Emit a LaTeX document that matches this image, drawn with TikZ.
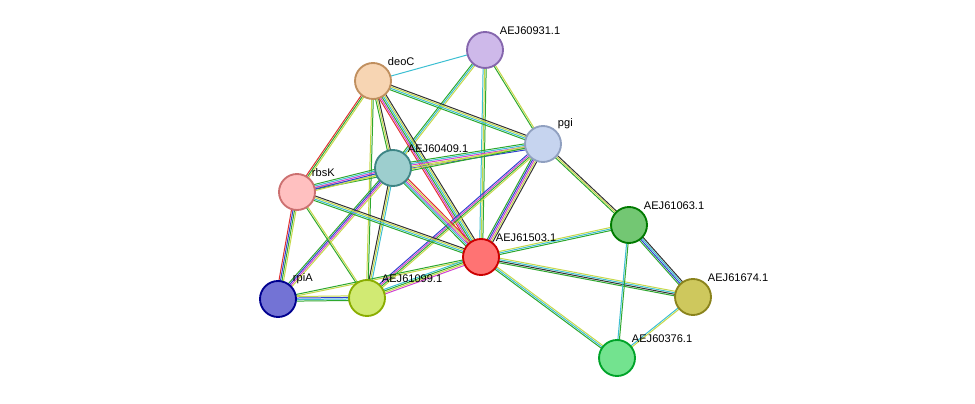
\documentclass[tikz,border=0pt]{standalone}
\usepackage{fontspec}
\setmainfont{Liberation Sans}
\usetikzlibrary{calc}
\definecolor{ecyan}{HTML}{3CBFD2}
\definecolor{egreen}{HTML}{2EA82E}
\definecolor{eyel}{HTML}{C6D84A}
\definecolor{emag}{HTML}{D040D0}
\definecolor{eblue}{HTML}{3040D0}
\definecolor{ered}{HTML}{E03030}
\definecolor{eblk}{HTML}{333333}
\tikzset{
  prot/.style={circle, minimum size=0.95cm, line width=1.4pt, fill=#1!55!white, draw=#1!80!black},
  lbl/.style={anchor=south west, inner sep=1pt, font=\fontsize{8.3}{10}\selectfont}
}
% multi-coloured edge: from, to, count, colours
\newcommand\stredge[4]{%
  \foreach \c [count=\i] in {#4}{%
    \pgfmathsetmacro\off{(\i-(#3+1)/2)*1.15}
    \draw[\c, line width=0.75pt] ($(#1)!\off pt!90:(#2)$) -- ($(#2)!\off pt!-90:(#1)$);
  }}
\begin{document}
\begin{tikzpicture}[x=0.0264cm, y=-0.0264cm]
\useasboundingbox (0,0) rectangle (975,404);
\coordinate (c60931) at (485,50);
\coordinate (cdeoC) at (373,81);
\coordinate (cpgi) at (543,144);
\coordinate (c60409) at (393,168);
\coordinate (crbsK) at (297,192);
\coordinate (c61503) at (481,257);
\coordinate (c61063) at (629,225);
\coordinate (c61674) at (693,297);
\coordinate (crpiA) at (278,299);
\coordinate (c61099) at (367,298);
\coordinate (c60376) at (617,358);
% edges
\stredge{c60931}{cdeoC}{1}{ecyan}
\stredge{c60931}{cpgi}{2}{egreen,eyel}
\stredge{c60931}{c60409}{3}{egreen,ecyan,eyel}
\stredge{c60931}{c61503}{3}{ecyan,eyel,egreen}
\stredge{cdeoC}{cpgi}{4}{egreen,ecyan,eyel,eblk}
\stredge{cdeoC}{c60409}{3}{egreen,eyel,eblk}
\stredge{cdeoC}{crbsK}{3}{ered,egreen,eyel}
\stredge{cdeoC}{c61503}{6}{ered,emag,egreen,ecyan,eyel,eblk}
\stredge{cdeoC}{c61099}{2}{eyel,egreen}
\stredge{cpgi}{c60409}{5}{egreen,ecyan,emag,eyel,eblue}
\stredge{cpgi}{crbsK}{2}{eyel,egreen}
\stredge{cpgi}{c61503}{5}{egreen,eblue,emag,eyel,eblk}
\stredge{cpgi}{c61099}{4}{eblue,emag,egreen,eyel}
\stredge{cpgi}{c61063}{3}{egreen,eyel,eblk}
\stredge{c60409}{crbsK}{5}{egreen,ecyan,emag,eblue,eyel}
\stredge{c60409}{c61503}{5}{egreen,ecyan,emag,eyel,ered}
\stredge{c60409}{crpiA}{4}{egreen,eblue,emag,eyel}
\stredge{c60409}{c61099}{3}{eblk,eyel,ecyan}
\stredge{crbsK}{c61503}{4}{egreen,ecyan,eyel,eblk}
\stredge{crbsK}{crpiA}{4}{ered,eblue,egreen,eyel}
\stredge{crbsK}{c61099}{2}{egreen,eyel}
\stredge{crpiA}{c61099}{4}{egreen,ecyan,eblue,eyel}
\stredge{crpiA}{c61503}{2}{eyel,egreen}
\stredge{c61099}{c61503}{4}{emag,eyel,egreen,ecyan}
\stredge{c61503}{c61063}{3}{egreen,ecyan,eyel}
\stredge{c61503}{c61674}{4}{egreen,eblk,ecyan,eyel}
\stredge{c61503}{c60376}{3}{egreen,ecyan,eyel}
\stredge{c61063}{c61674}{4}{egreen,eblue,ecyan,eblk}
\stredge{c61063}{c60376}{2}{ecyan,egreen}
\stredge{c61674}{c60376}{2}{ecyan,eyel}
% nodes
\node[prot=violet!60!blue!50!white, label={[lbl]north east:AEJ60931.1}] (n60931) at (c60931) {};
\node[prot=orange!60!brown!60!white, label={[lbl]north east:deoC}] (deoC) at (cdeoC) {};
\node[prot=cyan!50!blue!40!white, label={[lbl]north east:pgi}] (pgi) at (cpgi) {};
\node[prot=teal!70!white, label={[lbl]north east:AEJ60409.1}] (n60409) at (c60409) {};
\node[prot=red!45!white, label={[lbl]north east:rbsK}] (rbsK) at (crbsK) {};
\node[prot=red, label={[lbl]north east:AEJ61503.1}] (n61503) at (c61503) {};
\node[prot=green!60!black, label={[lbl]north east:AEJ61063.1}] (n61063) at (c61063) {};
\node[prot=olive!80!yellow, label={[lbl]north east:AEJ61674.1}] (n61674) at (c61674) {};
\node[prot=blue!70!black, label={[lbl]north east:rpiA}] (rpiA) at (crpiA) {};
\node[prot=lime!70!olive, label={[lbl]north east:AEJ61099.1}] (n61099) at (c61099) {};
\node[prot=green!60!teal, label={[lbl]north east:AEJ60376.1}] (n60376) at (c60376) {};
\end{tikzpicture}
\end{document}
